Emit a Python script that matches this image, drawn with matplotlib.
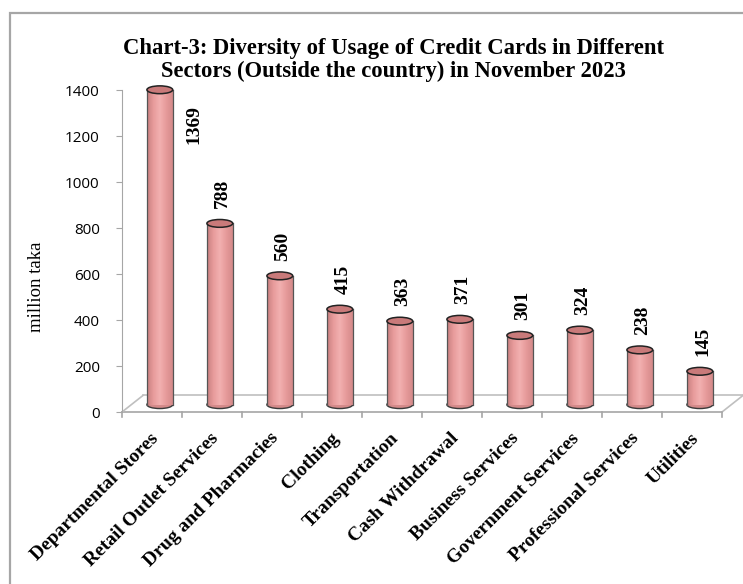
import numpy as np
import matplotlib
matplotlib.use('Agg')
import matplotlib.pyplot as plt
from matplotlib.patches import Ellipse, Rectangle
from matplotlib.colors import LinearSegmentedColormap

sectors = ['Departmental Stores', 'Retail Outlet Services', 'Drug and Pharmacies',
           'Clothing', 'Transportation', 'Cash Withdrawal', 'Business Services',
           'Government Services', 'Professional Services', 'Utilities']
values = [1369, 788, 560, 415, 363, 371, 301, 324, 238, 145]
yticks = [0, 200, 400, 600, 800, 1000, 1200, 1400]

W, H = 743, 584
fig = plt.figure(figsize=(W / 100, H / 100), dpi=100)
serif = ['Liberation Serif', 'DejaVu Serif']

# outer frame of the chart area
fig.patches.append(Rectangle((10 / W, -0.05), 1.1, (H - 13) / H + 0.05, transform=fig.transFigure,
                             fill=False, edgecolor='#a6a6a6', linewidth=1.6))

ax = fig.add_axes([122 / W, (H - 412) / H, 600 / W, 322 / H])
for s in ['top', 'right', 'bottom']:
    ax.spines[s].set_visible(False)
ax.spines['left'].set_color('#a6a6a6')
ax.patch.set_alpha(0)

# floor in fake perspective
depth_x, depth_y = 0.35, 72
gray = '#bfbfbf'
n = len(values)
ax.plot([-0.5, n - 0.5], [0, 0], color='#a6a6a6', lw=1.2, clip_on=False)
ax.plot([-0.5 + depth_x, n - 0.5 + depth_x], [depth_y, depth_y], color=gray, lw=1.2, clip_on=False)
ax.plot([-0.5, -0.5 + depth_x], [0, depth_y], color=gray, lw=1.2, clip_on=False)
ax.plot([n - 0.5, n - 0.5 + depth_x], [0, depth_y], color=gray, lw=1.2, clip_on=False)
for b in np.arange(-0.5, n, 1.0):
    ax.plot([b, b], [0, -22], color='#a6a6a6', lw=1.2, clip_on=False)

body_cmap = LinearSegmentedColormap.from_list('cyl', ['#c98080', '#e89c9c', '#f2b0b0', '#e69a9a', '#d48a8a'])
grad = np.linspace(0, 1, 64).reshape(1, -1)
shift = 0.13
bw = 0.43
base = 32
eh = 34

for i, v in enumerate(values):
    x = i + shift
    top = v + base
    ax.add_patch(Ellipse((x, base), bw, eh, facecolor='#d48a8a', edgecolor='#3a3a3a', lw=1.0,
                         zorder=2, clip_on=False))
    ax.imshow(grad, cmap=body_cmap, aspect='auto', extent=[x - bw / 2, x + bw / 2, base, top],
              zorder=3, clip_on=False)
    ax.plot([x - bw / 2, x - bw / 2], [base, top], color='#555555', lw=0.9, zorder=4, clip_on=False)
    ax.plot([x + bw / 2, x + bw / 2], [base, top], color='#555555', lw=0.9, zorder=4, clip_on=False)
    ax.add_patch(Ellipse((x, top), bw, eh, facecolor='#c97a7a', edgecolor='#222222', lw=1.1,
                         zorder=5, clip_on=False))
    if i == 0:
        ax.annotate(str(v), (x + 0.57, top), xytext=(0, -11), textcoords='offset points',
                    rotation=90, ha='center', va='top', fontsize=14, fontweight='bold', family=serif)
    else:
        ax.annotate(str(v), (x + 0.05, top), xytext=(0, 11), textcoords='offset points',
                    rotation=90, ha='center', va='bottom', fontsize=14, fontweight='bold', family=serif)

ax.set_xlim(-0.5, n - 0.5)
ax.set_ylim(0, 1400)

ax.set_yticks(yticks)
ax.set_yticklabels([str(t) for t in yticks], fontsize=11, family=['Open Sans', 'DejaVu Sans'])
ax.tick_params(axis='y', length=4, color='#a6a6a6', pad=12)
ax.set_xticks(np.arange(n) + 0.07)
ax.set_xticklabels(sectors, rotation=45, ha='right', va='center', rotation_mode='anchor',
                   fontsize=14, fontweight='bold', family=serif)
ax.tick_params(axis='x', length=0, pad=17)

ax.set_ylabel('million taka', fontsize=13.5, family=serif)
ax.yaxis.set_label_coords(-0.128, 0.39)

fig.text(0.53, (H - 60) / H, 'Chart-3: Diversity of Usage of Credit Cards in Different\n'
         'Sectors (Outside the country) in November 2023',
         ha='center', va='center', fontsize=16.3, fontweight='bold', family=serif, linespacing=1.1)

fig.savefig('out.png', dpi=100)
